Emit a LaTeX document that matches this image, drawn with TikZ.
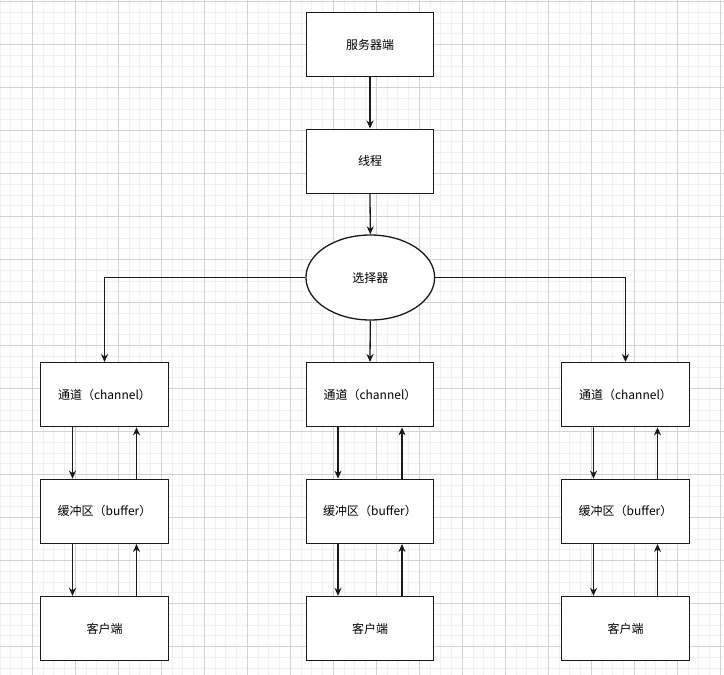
\documentclass[tikz,border=0pt]{standalone}
\usepackage{fontspec}
\setmainfont{Noto Sans CJK SC}
\usetikzlibrary{arrows.meta,shapes.geometric}
\definecolor{gridmajor}{HTML}{D2D2D2}
\definecolor{gridminor}{HTML}{F1F1F1}
\definecolor{edge}{HTML}{1A1A1A}
\begin{document}
\begin{tikzpicture}[x=1pt,y=-1pt,
  box/.style={draw=edge,line width=1.3pt,fill=white,minimum width=127.6pt,minimum height=64pt,inner sep=0pt,font=\fontsize{12pt}{14pt}\selectfont},
  oval/.style={ellipse,draw=edge,line width=1.3pt,fill=white,minimum width=128.7pt,minimum height=85pt,inner sep=0pt,font=\fontsize{12pt}{14pt}\selectfont},
  conn/.style={draw=edge,line width=1.3pt,-{Stealth[length=8pt,width=7pt,inset=2.5pt]}}]
\useasboundingbox (0,0) rectangle (724,675);
\fill[white] (0,0) rectangle (724,675);
% minor grid
\foreach \k in {-3,...,65}{
  \pgfmathsetmacro{\gx}{32.3+10.75*\k}
  \draw[gridminor,line width=0.8pt] (\gx,0) -- (\gx,675);
}
\foreach \k in {0,...,62}{
  \pgfmathsetmacro{\gy}{1.5+10.75*\k}
  \draw[gridminor,line width=0.8pt] (0,\gy) -- (724,\gy);
}
% major grid
\foreach \k in {0,...,16}{
  \pgfmathsetmacro{\gx}{32.3+43*\k}
  \draw[gridmajor,line width=0.8pt] (\gx,0) -- (\gx,675);
}
\foreach \k in {0,...,15}{
  \pgfmathsetmacro{\gy}{1.5+43*\k}
  \draw[gridmajor,line width=0.8pt] (0,\gy) -- (724,\gy);
}
% nodes
\node[box] (srv) at (370,44.5) {服务器端};
\node[box] (thr) at (370,161.2) {线程};
\node[oval] (sel) at (370.3,277.5) {选择器};
\node[box] (ch1) at (104.5,394.7) {通道（channel）};
\node[box] (ch2) at (370,394.7) {通道（channel）};
\node[box] (ch3) at (625.5,394.7) {通道（channel）};
\node[box] (bf1) at (104.5,511.3) {缓冲区（buffer）};
\node[box] (bf2) at (370,511.3) {缓冲区（buffer）};
\node[box] (bf3) at (625.5,511.3) {缓冲区（buffer）};
\node[box] (cl1) at (104.5,628.5) {客户端};
\node[box] (cl2) at (370,628.5) {客户端};
\node[box] (cl3) at (625.5,628.5) {客户端};
% connectors
\draw[conn] (srv.south) -- (thr.north);
\draw[conn] (thr.south) -- (sel.north);
\draw[conn] (sel.west) -| (ch1.north);
\draw[conn] (sel.south) -- (ch2.north);
\draw[conn] (sel.east) -| (ch3.north);
\foreach \i in {1,2,3}{
  \draw[conn] ([xshift=-32pt]ch\i.south) -- ([xshift=-32pt]bf\i.north);
  \draw[conn] ([xshift=32pt]bf\i.north) -- ([xshift=32pt]ch\i.south);
  \draw[conn] ([xshift=-32pt]bf\i.south) -- ([xshift=-32pt]cl\i.north);
  \draw[conn] ([xshift=32pt]cl\i.north) -- ([xshift=32pt]bf\i.south);
}
\end{tikzpicture}
\end{document}
